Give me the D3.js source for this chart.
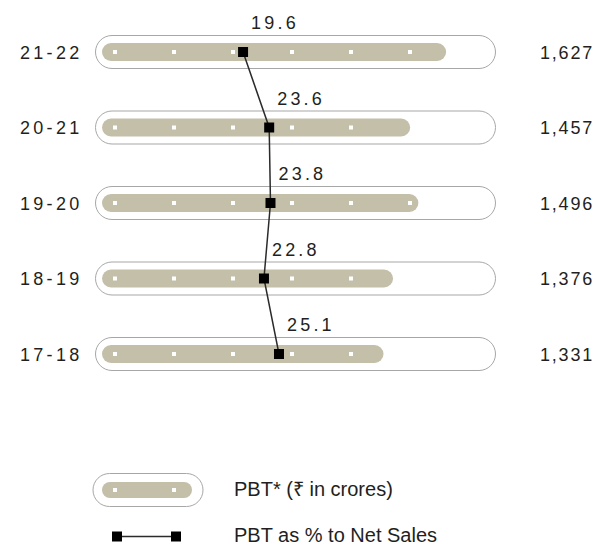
<!DOCTYPE html>
<html><head><meta charset="utf-8">
<script src="https://cdn.jsdelivr.net/npm/d3@7"></script>
<style>
html,body{margin:0;padding:0;background:#fff;}
svg{display:block;}
text{font-family:"Liberation Sans",Arial,Helvetica,sans-serif;fill:#231f20;}
</style></head>
<body>
<svg id="chart" width="601" height="545"></svg>
<script>
const years = ["21-22","20-21","19-20","18-19","17-18"];
const pbt = [1627, 1457, 1496, 1376, 1331];
const pbtLabels = ["1,627","1,457","1,496","1,376","1,331"];
const pctNetSales = [19.6, 23.6, 23.8, 22.8, 25.1];
const legendLabels = ["PBT* (₹ in crores)", "PBT as % to Net Sales"];

const svg = d3.select("#chart");
const barColor = "#c4bfa9";
const capStroke = "#a7a7a7";

const y = d3.scalePoint().domain(years).range([52, 354]);
const x = d3.scaleLinear().domain([0, 1700]).range([102, 102 + 1700 * 0.2115]);
const xp = d3.scaleLinear().domain([0, 30]).range([115, 311]);

const rows = years.map((yr, i) => ({yr, v: pbt[i], lab: pbtLabels[i], p: pctNetSales[i]}));

const capH = 33, barH = 18;
const g = svg.append("g");

rows.forEach(d => {
  const cy = y(d.yr);
  g.append("rect").attr("x", 95.5).attr("y", cy - capH/2).attr("width", 400).attr("height", capH)
    .attr("rx", capH/2).attr("fill", "#fff").attr("stroke", capStroke).attr("stroke-width", 1);
  const x1 = x(d.v);
  g.append("rect").attr("x", x(0)).attr("y", cy - barH/2).attr("width", x1 - x(0)).attr("height", barH)
    .attr("rx", barH/2).attr("fill", barColor);
  d3.range(115, x1 - 3, 59).forEach(dx => {
    g.append("rect").attr("x", dx - 2).attr("y", cy - 2).attr("width", 4).attr("height", 4).attr("fill", "#fff");
  });
  g.append("text").attr("x", 20).attr("y", cy + 6.5).attr("font-size", 18)
    .attr("letter-spacing", 3.3).text(d.yr);
  g.append("text").attr("x", 540).attr("y", cy + 6.5).attr("font-size", 18)
    .attr("letter-spacing", 1.8).text(d.lab);
});

const line = d3.line().x(d => xp(d.p)).y(d => y(d.yr));
g.append("path").datum(rows).attr("d", line).attr("fill", "none")
  .attr("stroke", "#2b2b2b").attr("stroke-width", 1.5);

rows.forEach(d => {
  const cx = xp(d.p), cy = y(d.yr);
  g.append("rect").attr("x", cx - 5).attr("y", cy - 5).attr("width", 10).attr("height", 10).attr("fill", "#000");
  g.append("text").attr("x", cx + 8).attr("y", cy - 23).attr("font-size", 18)
    .attr("letter-spacing", 3.2).text(d.p.toFixed(1));
});

// Legend
const lg = svg.append("g");
const ly1 = 490;
lg.append("rect").attr("x", 93).attr("y", ly1 - capH/2).attr("width", 110).attr("height", capH)
  .attr("rx", capH/2).attr("fill", "#fff").attr("stroke", capStroke);
lg.append("rect").attr("x", 102).attr("y", ly1 - 8).attr("width", 90).attr("height", 16)
  .attr("rx", 8).attr("fill", barColor);
[115, 174].forEach(dx => lg.append("rect").attr("x", dx - 2).attr("y", ly1 - 2).attr("width", 4).attr("height", 4).attr("fill", "#fff"));
lg.append("text").attr("x", 234).attr("y", 495.5).attr("font-size", 20).text(legendLabels[0]);

const ly2 = 536.5;
lg.append("line").attr("x1", 117).attr("x2", 176).attr("y1", ly2).attr("y2", ly2)
  .attr("stroke", "#2b2b2b").attr("stroke-width", 1.5);
[117, 176].forEach(cx => lg.append("rect").attr("x", cx - 5).attr("y", ly2 - 5).attr("width", 10).attr("height", 10).attr("fill", "#000"));
lg.append("text").attr("x", 234).attr("y", 542).attr("font-size", 20).text(legendLabels[1]);
</script>
</body></html>
